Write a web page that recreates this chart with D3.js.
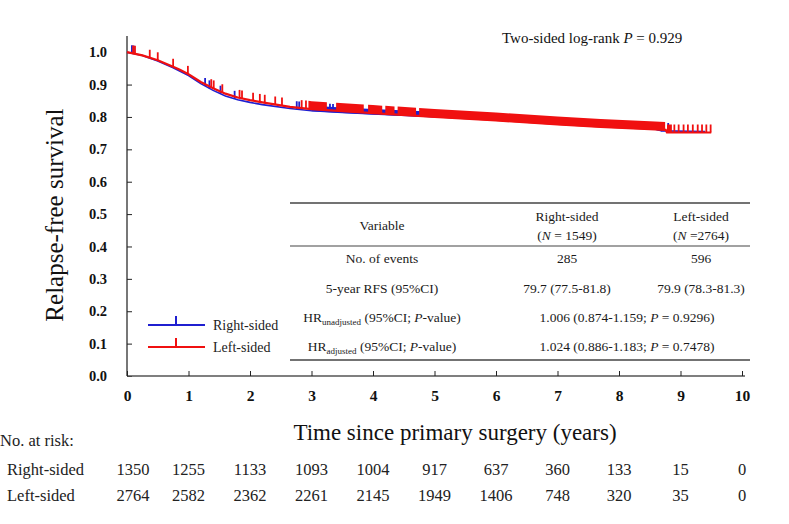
<!DOCTYPE html>
<html>
<head>
<meta charset="utf-8">
<script src="https://cdn.jsdelivr.net/npm/d3@7"></script>
<style>
  body { margin: 0; background: #fff; }
  svg { display: block; font-family: 'Liberation Serif', 'Times New Roman', serif; }
</style>
</head>
<body>
<svg id="km" width="789" height="524"></svg>
<script>
/* global d3 */

// ---- data ----
const years = [0, 1, 2, 3, 4, 5, 6, 7, 8, 9, 10]
const survTicks = [0, 0.1, 0.2, 0.3, 0.4, 0.5, 0.6, 0.7, 0.8, 0.9, 1.0]

// Kaplan-Meier curves (time in years, relapse-free survival)
const rightTime = [0, 0.25, 0.5, 0.75, 1.0, 1.2, 1.4, 1.6, 1.8, 2.0, 2.2, 2.65, 3.0, 3.5, 4.0, 5.0, 6.0, 7.0, 7.7, 8.5, 8.7, 9.4]
const rightSurv = [1.0, 0.99, 0.973, 0.952, 0.928, 0.903, 0.882, 0.865, 0.853, 0.845, 0.838, 0.826, 0.819, 0.814, 0.809, 0.801, 0.793, 0.784, 0.776, 0.767, 0.757, 0.755]
const leftTime = [0, 0.25, 0.5, 0.75, 0.86, 1.0, 1.2, 1.4, 1.6, 1.8, 2.0, 2.2, 2.65, 3.0, 4.0, 5.0, 6.0, 7.0, 7.7, 8.5, 8.76, 8.78, 9.5]
const leftSurv = [1.0, 0.99, 0.975, 0.955, 0.946, 0.932, 0.908, 0.889, 0.872, 0.86, 0.852, 0.845, 0.831, 0.824, 0.812, 0.8, 0.789, 0.777, 0.769, 0.762, 0.76, 0.752, 0.752]

// censoring marks: single ticks and runs too dense to separate
const rightCensor = [0.08, 0.11, 1.27, 1.34, 1.52, 1.75, 2.76, 2.8, 3.3, 3.35, 8.72, 8.8]
const leftCensor = [0.1, 0.13, 0.37, 0.5, 0.75, 0.99, 1.37, 1.41, 1.55, 1.83, 1.87, 2.05, 2.16, 2.24, 2.41, 2.52, 2.84, 2.91,
  8.9, 8.97, 9.05, 9.12, 9.2, 9.28, 9.35, 9.42, 9.49]
const rightCensorRuns = [[3.0, 8.7]]
const leftCensorRuns = [[2.95, 3.25], [3.4, 3.85], [3.92, 4.15], [4.2, 4.35], [4.4, 4.7], [4.75, 8.75], [8.78, 8.86]]

// numbers at risk
const riskGroups = ['Right-sided', 'Left-sided']
const rightAtRisk = ['1350', '1255', '1133', '1093', '1004', '917', '637', '360', '133', '15', '0']
const leftAtRisk = ['2764', '2582', '2362', '2261', '2145', '1949', '1406', '748', '320', '35', '0']

// summary table
const tableHeads = ['Right-sided', 'Left-sided']
const tableNs = ['1549', '2764']
const eventCounts = ['285', '596']
const rfs5 = ['79.7 (77.5-81.8)', '79.9 (78.3-81.3)']
const hrUnadjusted = ['1.006 (0.874-1.159; ', '0.9296)']
const hrAdjusted = ['1.024 (0.886-1.183; ', '0.7478)']
const logRankP = '0.929'

// ---- drawing ----
const svg = d3.select('#km')
const blue = '#1f1fd0'
const red = '#f01010'
const axisGrey = '#555'

const x = d3.scaleLinear().domain([0, 10]).range([127, 742])
const y = d3.scaleLinear().domain([0, 1.05]).range([376, 36])

// axes, ticks pointing inward
const yAxis = svg.append('g')
  .attr('transform', `translate(${x(0)},0)`)
  .call(d3.axisLeft(y).tickValues(survTicks).tickFormat(d3.format('.1f'))
    .tickSizeInner(-5).tickSizeOuter(0).tickPadding(20))
const xAxis = svg.append('g')
  .attr('transform', `translate(0,${y(0)})`)
  .call(d3.axisBottom(x).tickValues(years).tickFormat(d3.format('d'))
    .tickSizeInner(-5).tickSizeOuter(0).tickPadding(14))

;[yAxis, xAxis].forEach(g => {
  g.select('.domain').attr('stroke', axisGrey).attr('stroke-width', 1.6)
  g.selectAll('.tick line').attr('stroke', '#222').attr('stroke-width', 1)
  g.selectAll('.tick text')
    .attr('font-family', "'Liberation Serif', 'Times New Roman', serif")
    .attr('font-weight', 'bold').attr('fill', '#111')
})
yAxis.selectAll('.tick text').attr('font-size', 14.5)
xAxis.selectAll('.tick text').attr('font-size', 15.5)
// y axis line drawn a little past 1.0
yAxis.select('.domain').attr('d', `M0,${y(0)}V${y(1.05)}`)
xAxis.select('.domain').attr('d', `M${x(0)},0H${x(10) + 3}`)

// axis titles
svg.append('text')
  .attr('transform', `translate(63,${(y(0) + y(1)) / 2 + 1}) rotate(-90)`)
  .attr('text-anchor', 'middle').attr('font-size', 25).attr('fill', '#111')
  .text('Relapse-free survival')
svg.append('text')
  .attr('x', 455).attr('y', 440)
  .attr('text-anchor', 'middle').attr('font-size', 23).attr('fill', '#111')
  .text('Time since primary surgery (years)')

// log-rank note
const lr = svg.append('text').attr('x', 502).attr('y', 43).attr('font-size', 15).attr('fill', '#111')
lr.append('tspan').text('Two-sided log-rank ')
lr.append('tspan').attr('font-style', 'italic').text('P')
lr.append('tspan').text(' = ' + logRankP)

// curves
function survAt (times, surv, t) {
  const i = d3.bisectRight(times, t)
  if (i <= 0) return surv[0]
  if (i >= times.length) return surv[surv.length - 1]
  const t0 = times[i - 1]; const t1 = times[i]
  return surv[i - 1] + (surv[i] - surv[i - 1]) * (t - t0) / (t1 - t0)
}

const line = d3.line().x(d => x(d[0])).y(d => y(d[1]))
const tickLen = 8

function drawGroup (times, surv, censor, runs, color, width, runLen) {
  const g = svg.append('g')
  g.append('path')
    .attr('d', line(times.map((t, i) => [t, surv[i]])))
    .attr('fill', 'none').attr('stroke', color).attr('stroke-width', width)
  // dense censoring runs as a band above the curve
  const band = d3.area()
    .x(d => x(d[0]))
    .y0(d => y(d[1]) + 0.5)
    .y1(d => y(d[1]) - runLen)
  runs.forEach(r => {
    const pts = [r[0]].concat(times.filter(t => t > r[0] && t < r[1]), [r[1]])
    g.append('path')
      .attr('d', band(pts.map(t => [t, survAt(times, surv, t)])))
      .attr('fill', color)
  })
  g.selectAll('line.cens').data(censor).join('line')
    .attr('class', 'cens')
    .attr('x1', d => x(d)).attr('x2', d => x(d))
    .attr('y1', d => y(survAt(times, surv, d)))
    .attr('y2', d => y(survAt(times, surv, d)) - tickLen)
    .attr('stroke', color).attr('stroke-width', 1.8)
}

drawGroup(rightTime, rightSurv, rightCensor, rightCensorRuns, blue, 1.6, 5)
drawGroup(leftTime, leftSurv, leftCensor, leftCensorRuns, red, 2.2, 8)

// legend
const legend = svg.append('g')
;[[blue, riskGroups[0], 325], [red, riskGroups[1], 347]].forEach(([c, label, ly]) => {
  legend.append('line').attr('x1', 148).attr('x2', 205).attr('y1', ly).attr('y2', ly)
    .attr('stroke', c).attr('stroke-width', 2.2)
  legend.append('line').attr('x1', 176).attr('x2', 176).attr('y1', ly).attr('y2', ly - 9)
    .attr('stroke', c).attr('stroke-width', 2)
  legend.append('text').attr('x', 213).attr('y', ly + 5).attr('font-size', 14).attr('fill', '#222')
    .text(label)
})

// summary table
const tbl = svg.append('g').attr('font-size', 13.5).attr('fill', '#1a1a1a')
const col = [382, 567, 701]
const span = 627
;[203, 246, 360].forEach(ly => {
  tbl.append('line').attr('x1', 290).attr('x2', 750).attr('y1', ly).attr('y2', ly)
    .attr('stroke', '#444').attr('stroke-width', ly === 246 ? 1.2 : 1.6)
})
tbl.append('text').attr('x', col[0]).attr('y', 230).attr('text-anchor', 'middle').text('Variable')
tableHeads.forEach((h, i) => {
  tbl.append('text').attr('x', col[i + 1]).attr('y', 221).attr('text-anchor', 'middle').text(h)
  const n = tbl.append('text').attr('x', col[i + 1]).attr('y', 240).attr('text-anchor', 'middle')
  n.append('tspan').text('(')
  n.append('tspan').attr('font-style', 'italic').text('N')
  n.append('tspan').text(i === 0 ? ' = ' + tableNs[i] + ')' : ' =' + tableNs[i] + ')')
})
tbl.append('text').attr('x', col[0]).attr('y', 263).attr('text-anchor', 'middle').text('No. of events')
eventCounts.forEach((v, i) => {
  tbl.append('text').attr('x', col[i + 1]).attr('y', 263).attr('text-anchor', 'middle').text(v)
})
tbl.append('text').attr('x', col[0]).attr('y', 293).attr('text-anchor', 'middle').text('5-year RFS (95%CI)')
rfs5.forEach((v, i) => {
  tbl.append('text').attr('x', col[i + 1]).attr('y', 293).attr('text-anchor', 'middle').text(v)
})

function hrRow (ly, sub, vals) {
  const lab = tbl.append('text').attr('x', col[0]).attr('y', ly).attr('text-anchor', 'middle')
  lab.append('tspan').text('HR')
  lab.append('tspan').attr('font-size', 9).attr('dy', 3).text(sub)
  lab.append('tspan').attr('dy', -3).text(' (95%CI; ')
  lab.append('tspan').attr('font-style', 'italic').text('P')
  lab.append('tspan').text('-value)')
  const v = tbl.append('text').attr('x', span).attr('y', ly).attr('text-anchor', 'middle')
  v.append('tspan').text(vals[0])
  v.append('tspan').attr('font-style', 'italic').text('P')
  v.append('tspan').text(' = ' + vals[1])
}
hrRow(322, 'unadjusted', hrUnadjusted)
hrRow(351, 'adjusted', hrAdjusted)

// numbers at risk
svg.append('text').attr('x', 0).attr('y', 446).attr('font-size', 16.5).attr('fill', '#222')
  .text('No. at risk:')
;[rightAtRisk, leftAtRisk].forEach((row, r) => {
  const ly = 475 + r * 26
  svg.append('text').attr('x', 7).attr('y', ly).attr('font-size', 16.5).attr('fill', '#222')
    .text(riskGroups[r])
  svg.append('g').selectAll('text').data(row).join('text')
    .attr('x', (d, i) => x(years[i]) + (i === 0 ? 6 : 0))
    .attr('y', ly)
    .attr('text-anchor', 'middle')
    .attr('font-size', 16.5).attr('fill', '#222')
    .text(d => d)
})
</script>
</body>
</html>
